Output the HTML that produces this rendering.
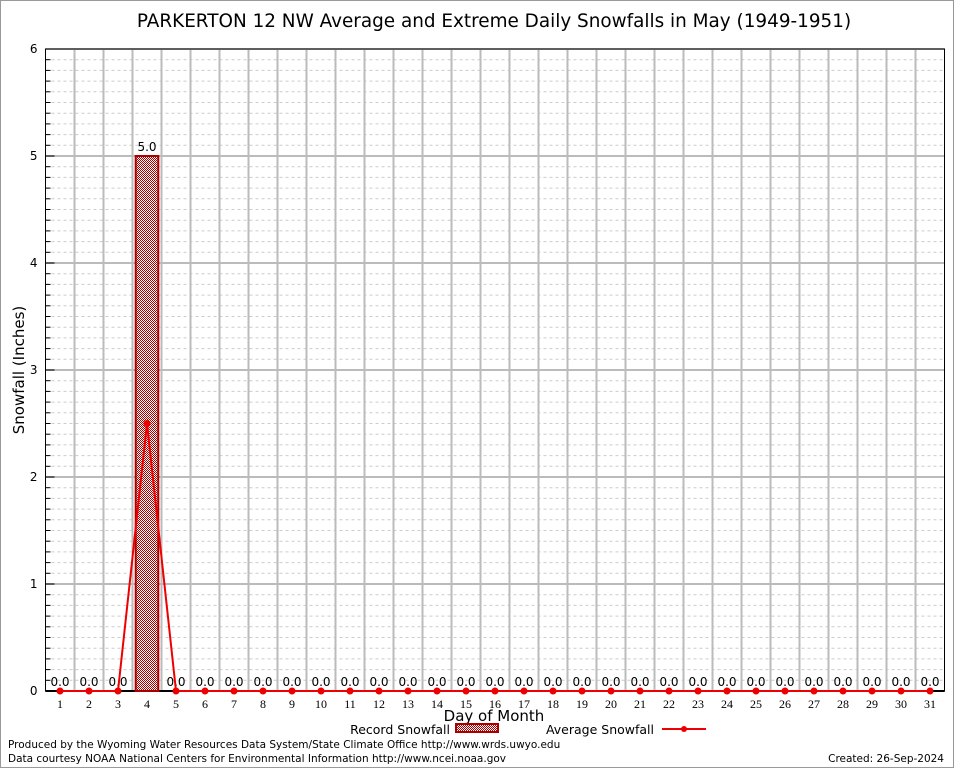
<!DOCTYPE html>
<html><head><meta charset="utf-8"><style>
body{margin:0;background:#fff;}
svg{display:block;font-family:"DejaVu Sans","Liberation Sans",sans-serif;}
</style></head><body>
<svg id="chart" width="954" height="768" viewBox="0 0 954 768">
<defs>
<pattern id="hatch" width="2" height="2" patternUnits="userSpaceOnUse">
<rect width="2" height="2" fill="#fff"/>
<rect x="0" y="0" width="1" height="1" fill="#a00"/>
<rect x="1" y="1" width="1" height="1" fill="#a00"/>
</pattern>
</defs>
<rect x="0.5" y="0.5" width="953" height="767" fill="#fff" stroke="#999"/>
<text x="494" y="27" font-size="18.4" text-anchor="middle">PARKERTON 12 NW Average and Extreme Daily Snowfalls in May (1949-1951)</text>
<g id="grid"></g>
<g id="axes"></g>
<g id="marks"></g>
<text transform="translate(24,370) rotate(-90)" font-size="15" text-anchor="middle">Snowfall (Inches)</text>
<text x="494" y="721" font-size="15" text-anchor="middle">Day of Month</text>
<g>
<text x="450" y="734" font-size="12.5" text-anchor="end">Record Snowfall</text>
<rect x="456" y="724" width="42" height="8" fill="url(#hatch)" stroke="#a00" stroke-width="2"/>
</g>
<g>
<text x="654" y="734" font-size="12.5" text-anchor="end">Average Snowfall</text>
<line x1="662" y1="729" x2="706" y2="729" stroke="#e00" stroke-width="2"/>
<circle cx="684" cy="729" r="3" fill="#e00"/>
</g>
<text x="8" y="748" font-size="10.5">Produced by the Wyoming Water Resources Data System/State Climate Office http://www.wrds.uwyo.edu</text>
<text x="8" y="762" font-size="10.5">Data courtesy NOAA National Centers for Environmental Information http://www.ncei.noaa.gov</text>
<text x="944" y="762" font-size="10.5" text-anchor="end">Created:  26-Sep-2024</text>
</svg>
<script>
const days = Array.from({length:31},(_,i)=>i+1);
const recordValues = [0,0,0,5.0,0,0,0,0,0,0,0,0,0,0,0,0,0,0,0,0,0,0,0,0,0,0,0,0,0,0,0];
const averageValues = [0,0,0,2.5,0,0,0,0,0,0,0,0,0,0,0,0,0,0,0,0,0,0,0,0,0,0,0,0,0,0,0];
const yTicks = [0,1,2,3,4,5,6];

const NS="http://www.w3.org/2000/svg";
const L=45.5,R=944.5,T=49,B=691;
function xs(d){return L+(d-0.5)*(R-L)/31;}
function ys(v){return B-v*(B-T)/6;}
function mk(tag,attrs,parent){const e=document.createElementNS(NS,tag);for(const k in attrs)e.setAttribute(k,attrs[k]);parent.appendChild(e);return e;}
const grid=document.getElementById('grid'),axes=document.getElementById('axes'),marks=document.getElementById('marks');

for(let i=1;i<60;i++){if(i%10===0)continue;const y=ys(i/10);
const g=mk('line',{x1:L,x2:R,y1:y,y2:y,stroke:'#ccc','stroke-dasharray':'3,3','stroke-width':1},grid);


const t=mk('line',{x1:L,x2:L+5,y1:y,y2:y,stroke:'#000'},axes);

}
yTicks.forEach(v=>{const y=ys(v);
const g=mk('line',{x1:L,x2:R,y1:y,y2:y,stroke:'#bbb','stroke-width':2},grid);


const t=mk('line',{x1:L,x2:L+9,y1:y,y2:y,stroke:'#000'},axes);


const lb=mk('text',{x:L-8,y:y+4,'font-size':12,'text-anchor':'end'},axes);lb.textContent=v;

});
for(let k=1;k<31;k++){const x=xs(k+0.5);
const g=mk('line',{x1:x,x2:x,y1:T,y2:B,stroke:'#bbb','stroke-width':2},grid);

}
const fr=mk('rect',{x:L,y:T,width:R-L,height:B-T,fill:'none',stroke:'#000','stroke-width':1},axes);


const xa=mk('line',{x1:L,x2:R,y1:B,y2:B,stroke:'#000','stroke-width':2},axes);


days.forEach(d=>{const lb=mk('text',{x:xs(d),y:708,'font-size':12,'text-anchor':'middle','font-family':'Liberation Serif, serif'},axes);lb.textContent=d;

});

const bw=(R-L)/31*0.78;
days.forEach((d,i)=>{const v=recordValues[i];
if(v>0){const b=mk('rect',{x:xs(d)-bw/2,y:ys(v),width:bw,height:B-ys(v),fill:'url(#hatch)',stroke:'#a00','stroke-width':2},marks);

}
const lb=mk('text',{x:xs(d),y:ys(v)-5,'font-size':12,'text-anchor':'middle'},marks);lb.textContent=v.toFixed(1);

});
const pts=days.map((d,i)=>xs(d)+','+ys(averageValues[i])).join(' ');
const pl=mk('polyline',{points:pts,fill:'none',stroke:'#e00','stroke-width':2},marks);


days.forEach((d,i)=>{const c=mk('circle',{cx:xs(d),cy:ys(averageValues[i]),r:3.5,fill:'#e00'},marks);

});
</script>
</body></html>
